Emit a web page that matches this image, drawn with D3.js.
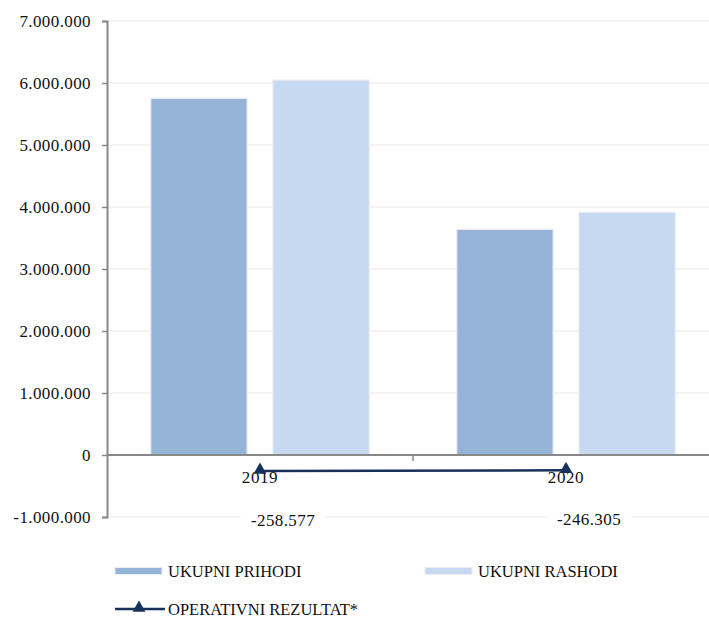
<!DOCTYPE html>
<html>
<head>
<meta charset="utf-8">
<script src="https://cdn.jsdelivr.net/npm/d3@7/dist/d3.min.js"></script>
<style>
  html, body { margin: 0; padding: 0; background: #fff; }
  svg { display: block; }
  svg text { font-family: "Liberation Serif", "DejaVu Serif", serif; }
</style>
</head>
<body>
<svg id="chart" width="709" height="618"></svg>
<script>
// ---- data ----
const categories = ["2019", "2020"];
const seriesNames = ["UKUPNI PRIHODI", "UKUPNI RASHODI"];
const prihodi = [5753000, 3640000];
const rashodi = [6048000, 3915000];
const operativniRezultat = [-258577, -246305];
const lineName = "OPERATIVNI REZULTAT*";
const yTicks = [-1000000, 0, 1000000, 2000000, 3000000, 4000000, 5000000, 6000000, 7000000];

const colors = { "UKUPNI PRIHODI": "#95B3D7", "UKUPNI RASHODI": "#C6D9F1" };
const lineColor = "#17325A";

const svg = d3.select("#chart");
const locale = d3.formatLocale({ decimal: ",", thousands: ".", grouping: [3], currency: ["", ""], minus: "-" });
const fmt = locale.format(",d");

const plotLeft = 107, plotRight = 719, plotTop = 21, plotBottom = 517;
const y = d3.scaleLinear().domain([-1000000, 7000000]).range([plotBottom, plotTop]);
const x = d3.scaleBand().domain(categories).range([plotLeft, plotRight]).padding(0);
const xs = d3.scaleBand().domain(seriesNames).range([0, x.bandwidth()]).paddingInner(0.211).paddingOuter(0.358);

// gridlines
svg.append("g").selectAll("line").data(yTicks.filter(d => d !== 0)).join("line")
  .attr("x1", plotLeft).attr("x2", 709)
  .attr("y1", d => y(d)).attr("y2", d => y(d))
  .attr("stroke", "#EFEFEF").attr("stroke-width", 1.5);

// bars
const barData = [];
categories.forEach((c, i) => {
  barData.push({ cat: c, s: seriesNames[0], v: prihodi[i] });
  barData.push({ cat: c, s: seriesNames[1], v: rashodi[i] });
});
svg.append("g").selectAll("rect").data(barData).join("rect")
  .attr("x", d => x(d.cat) + xs(d.s))
  .attr("width", xs.bandwidth())
  .attr("y", d => y(d.v))
  .attr("height", d => y(0) - y(d.v))
  .attr("fill", d => colors[d.s])
  .attr("stroke", "#EBEEF2").attr("stroke-width", 1.2);

// y axis
const yAxis = d3.axisLeft(y).tickValues(yTicks).tickSize(5).tickPadding(11).tickFormat(d => fmt(d));
const gy = svg.append("g").attr("transform", `translate(${plotLeft},0)`).call(yAxis)
  .attr("font-family", null).attr("font-size", null);
gy.select(".domain").attr("stroke", "#888").attr("stroke-width", 2);
gy.selectAll(".tick line").attr("stroke", "#888").attr("stroke-width", 1.5);
gy.selectAll(".tick text").attr("font-size", 17).attr("fill", "#111").attr("letter-spacing", 0.4);

// x axis at zero
svg.append("line").attr("x1", plotLeft).attr("x2", 709).attr("y1", y(0)).attr("y2", y(0))
  .attr("stroke", "#888").attr("stroke-width", 2);
svg.append("g").selectAll("line").data(categories.slice(1)).join("line")
  .attr("x1", d => x(d)).attr("x2", d => x(d))
  .attr("y1", y(0)).attr("y2", y(0) + 6)
  .attr("stroke", "#888").attr("stroke-width", 1.5);

// category labels
svg.append("g").selectAll("text").data(categories).join("text")
  .attr("x", d => x(d) + x.bandwidth() / 2)
  .attr("y", y(0) + 28)
  .attr("text-anchor", "middle").attr("font-size", 17).attr("letter-spacing", 0.6)
  .attr("fill", "#111").text(d => d);

// line series
const lineData = categories.map((c, i) => ({ cat: c, v: operativniRezultat[i] }));
const line = d3.line().x(d => x(d.cat) + x.bandwidth() / 2).y(d => y(d.v));
svg.append("path").datum(lineData).attr("d", line)
  .attr("fill", "none").attr("stroke", lineColor).attr("stroke-width", 2.5);
const tri = d3.symbol().type(d3.symbolTriangle).size(72);
svg.append("g").selectAll("path").data(lineData).join("path")
  .attr("d", tri)
  .attr("transform", d => `translate(${x(d.cat) + x.bandwidth() / 2},${y(d.v) - 1})`)
  .attr("fill", lineColor);

// data labels with white background
const lbl = svg.append("g").selectAll("g").data(lineData).join("g")
  .attr("transform", d => `translate(${x(d.cat) + x.bandwidth() / 2 + 23},${y(d.v) + 55})`);
lbl.append("rect").attr("x", -42).attr("y", -16).attr("width", 84).attr("height", 22).attr("fill", "#fff");
lbl.append("text").attr("text-anchor", "middle").attr("font-size", 17).attr("letter-spacing", 0.4)
  .attr("fill", "#111").text(d => fmt(d.v));

// legend
const leg = svg.append("g");
const legItems = [
  { name: seriesNames[0], x: 115, y: 571, type: "bar" },
  { name: seriesNames[1], x: 425, y: 571, type: "bar" },
  { name: lineName, x: 115, y: 609, type: "line" }
];
legItems.forEach(it => {
  const g = leg.append("g").attr("transform", `translate(${it.x},${it.y})`);
  if (it.type === "bar") {
    g.append("rect").attr("x", 0).attr("y", -3.5).attr("width", 47).attr("height", 7)
      .attr("fill", colors[it.name]).attr("stroke", "#EBEEF2").attr("stroke-width", 1);
  } else {
    g.append("line").attr("x1", 0).attr("x2", 50).attr("y1", 0).attr("y2", 0)
      .attr("stroke", lineColor).attr("stroke-width", 2.5);
    g.append("path").attr("d", tri).attr("transform", "translate(24,-1)").attr("fill", lineColor);
  }
  g.append("text").attr("x", 53).attr("y", 6).attr("font-size", 16.5).attr("fill", "#111").text(it.name);
});
</script>
</body>
</html>
